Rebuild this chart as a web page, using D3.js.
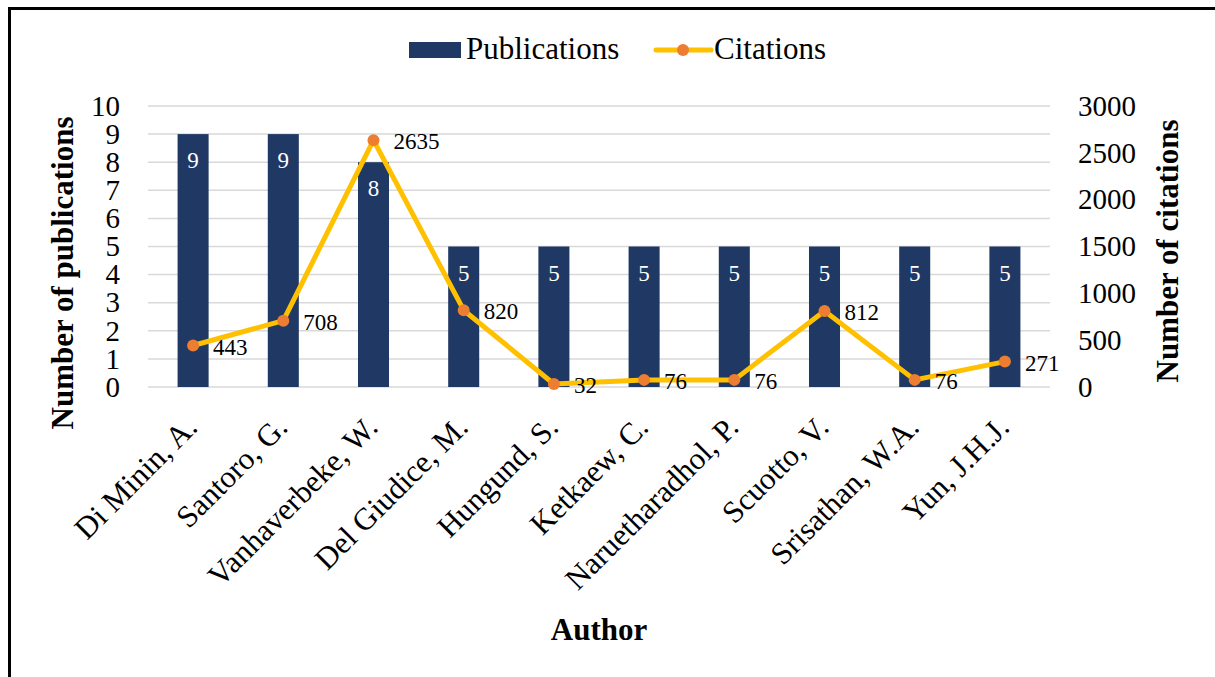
<!DOCTYPE html>
<html>
<head>
<meta charset="utf-8">
<script src="https://cdn.jsdelivr.net/npm/d3@7"></script>
<style>
  body { margin: 0; background: #fff; }
</style>
</head>
<body>
<div id="wrapper"></div>
<script>
const authors = ["Di Minin, A.", "Santoro, G.", "Vanhaverbeke, W.", "Del Giudice, M.", "Hungund, S.",
  "Ketkaew, C.", "Naruetharadhol, P.", "Scuotto, V.", "Srisathan, W.A.", "Yun, J.H.J."];
const publications = [9, 9, 8, 5, 5, 5, 5, 5, 5, 5];
const citations = [443, 708, 2635, 820, 32, 76, 76, 812, 76, 271];
const pubTicks = [0, 1, 2, 3, 4, 5, 6, 7, 8, 9, 10];
const citTicks = [0, 500, 1000, 1500, 2000, 2500, 3000];

const barColor = "#1F3864";
const lineColor = "#FFC000";
const dotColor = "#ED7D31";
const serif = "'Liberation Serif', 'Times New Roman', serif";

let dimensions = {
  width: 1215,
  height: 677,
  margin: { top: 106, right: 165, bottom: 290, left: 148 }
};
dimensions.boundedWidth = dimensions.width - dimensions.margin.left - dimensions.margin.right;
dimensions.boundedHeight = dimensions.height - dimensions.margin.top - dimensions.margin.bottom;

const svg = d3.select("#wrapper").append("svg")
  .attr("width", dimensions.width)
  .attr("height", dimensions.height)
  .style("font-family", serif);

// outer frame (cropped on right and bottom in the original)
svg.append("path")
  .attr("d", "M9.5,680 L9.5,8.5 L1220,8.5")
  .attr("fill", "none")
  .attr("stroke", "#000")
  .attr("stroke-width", 3);

const g = svg.append("g")
  .attr("transform", `translate(${dimensions.margin.left},${dimensions.margin.top})`);

const xScale = d3.scaleBand()
  .domain(authors)
  .range([0, dimensions.boundedWidth])
  .paddingInner(0.656)
  .paddingOuter(0.328);

const yScale = d3.scaleLinear()
  .domain([0, 10])
  .range([dimensions.boundedHeight, 0]);

const y2Scale = d3.scaleLinear()
  .domain([0, 3000])
  .range([dimensions.boundedHeight, 0]);

// gridlines
g.append("g").selectAll("line")
  .data(pubTicks)
  .join("line")
  .attr("x1", 0)
  .attr("x2", dimensions.boundedWidth)
  .attr("y1", d => yScale(d))
  .attr("y2", d => yScale(d))
  .attr("stroke", "#d9d9d9")
  .attr("stroke-width", 1.5);

function styleAxis(axisG, size) {
  axisG.attr("font-family", null).attr("font-size", null);
  axisG.select(".domain").remove();
  axisG.selectAll("text")
    .style("font-family", serif)
    .style("font-size", size + "px")
    .attr("fill", "#000");
}

// left axis
const yAxis = g.append("g")
  .call(d3.axisLeft(yScale).tickValues(pubTicks).tickSize(0).tickPadding(28).tickFormat(d3.format("d")));
styleAxis(yAxis, 29);

// right axis
const y2Axis = g.append("g")
  .attr("transform", `translate(${dimensions.boundedWidth},0)`)
  .call(d3.axisRight(y2Scale).tickValues(citTicks).tickSize(0).tickPadding(28).tickFormat(d3.format("d")));
styleAxis(y2Axis, 29);

// category labels
const xAxis = g.append("g")
  .attr("transform", `translate(0,${dimensions.boundedHeight})`)
  .call(d3.axisBottom(xScale).tickSize(0).tickPadding(0));
styleAxis(xAxis, 31);
xAxis.selectAll("text")
  .attr("text-anchor", "end")
  .attr("dy", 0)
  .attr("y", 0)
  .attr("transform", "translate(6,42) rotate(-45)");

// bars
g.append("g").selectAll("rect")
  .data(publications)
  .join("rect")
  .attr("x", (d, i) => xScale(authors[i]))
  .attr("y", d => yScale(d))
  .attr("width", xScale.bandwidth())
  .attr("height", d => dimensions.boundedHeight - yScale(d))
  .attr("fill", barColor);

// citation line
const lineGen = d3.line()
  .x((d, i) => xScale(authors[i]) + xScale.bandwidth() / 2)
  .y(d => y2Scale(d));

g.append("path")
  .datum(citations)
  .attr("d", lineGen)
  .attr("fill", "none")
  .attr("stroke", lineColor)
  .attr("stroke-width", 5)
  .attr("stroke-linejoin", "round");

g.append("g").selectAll("circle")
  .data(citations)
  .join("circle")
  .attr("cx", (d, i) => xScale(authors[i]) + xScale.bandwidth() / 2)
  .attr("cy", d => y2Scale(d))
  .attr("r", 6)
  .attr("fill", dotColor);

// bar labels
g.append("g").selectAll("text")
  .data(publications)
  .join("text")
  .attr("x", (d, i) => xScale(authors[i]) + xScale.bandwidth() / 2)
  .attr("y", d => yScale(d) + 34)
  .attr("text-anchor", "middle")
  .style("font-size", "23px")
  .attr("fill", "#fff")
  .text(d => d);

// citation labels
g.append("g").selectAll("text")
  .data(citations)
  .join("text")
  .attr("x", (d, i) => xScale(authors[i]) + xScale.bandwidth() / 2 + 20)
  .attr("y", d => y2Scale(d) + 9)
  .style("font-size", "23px")
  .attr("fill", "#000")
  .text(d => d);

// axis titles
svg.append("text")
  .attr("transform", "translate(73,273) rotate(-90)")
  .attr("text-anchor", "middle")
  .style("font-size", "31px")
  .attr("font-weight", "bold")
  .text("Number of publications");

svg.append("text")
  .attr("transform", "translate(1178,251) rotate(-90)")
  .attr("text-anchor", "middle")
  .style("font-size", "31px")
  .attr("font-weight", "bold")
  .text("Number of citations");

svg.append("text")
  .attr("x", 599)
  .attr("y", 640)
  .attr("text-anchor", "middle")
  .style("font-size", "31px")
  .attr("font-weight", "bold")
  .text("Author");

// legend
const legend = svg.append("g");
legend.append("rect")
  .attr("x", 409).attr("y", 42)
  .attr("width", 52).attr("height", 16)
  .attr("fill", barColor);
legend.append("text")
  .attr("x", 466).attr("y", 59)
  .style("font-size", "31px")
  .text("Publications");
legend.append("line")
  .attr("x1", 656).attr("x2", 711)
  .attr("y1", 50).attr("y2", 50)
  .attr("stroke", lineColor)
  .attr("stroke-width", 5)
  .attr("stroke-linecap", "round");
legend.append("circle")
  .attr("cx", 683).attr("cy", 50).attr("r", 6)
  .attr("fill", dotColor);
legend.append("text")
  .attr("x", 714).attr("y", 59)
  .style("font-size", "31px")
  .text("Citations");
</script>
</body>
</html>
